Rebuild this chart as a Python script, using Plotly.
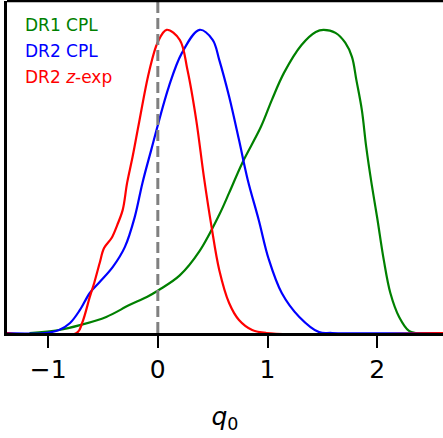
import plotly.graph_objects as go

# DR1 CPL (green)
q_dr1 = [-1.17, -0.9, -0.71, -0.47, -0.26, -0.1, 0.01, 0.2, 0.38, 0.56, 0.65, 0.77, 0.94, 1.04, 1.15, 1.31, 1.44, 1.51, 1.62, 1.71, 1.77, 1.81, 1.86, 1.9, 1.95, 2.0, 2.06, 2.12, 2.2, 2.29, 2.35, 2.6]
p_dr1 = [0.0, 0.01, 0.026, 0.053, 0.092, 0.119, 0.142, 0.19, 0.27, 0.39, 0.462, 0.561, 0.68, 0.769, 0.858, 0.95, 0.993, 1.0, 0.99, 0.957, 0.911, 0.835, 0.736, 0.614, 0.49, 0.38, 0.241, 0.132, 0.053, 0.007, 0.0, 0.0]

# DR2 CPL (blue)
q_cpl = [-1.4, -1.03, -0.9, -0.8, -0.71, -0.62, -0.53, -0.41, -0.3, -0.21, -0.14, -0.06, 0.1, 0.22, 0.38, 0.5, 0.56, 0.65, 0.74, 0.82, 0.92, 1.01, 1.13, 1.29, 1.47, 1.59, 2.6]
p_cpl = [0.0, 0.0, 0.01, 0.033, 0.076, 0.132, 0.168, 0.218, 0.284, 0.383, 0.495, 0.604, 0.812, 0.924, 1.0, 0.967, 0.901, 0.78, 0.637, 0.505, 0.373, 0.245, 0.132, 0.053, 0.003, 0.0, 0.0]

# DR2 z-exp (red)
q_zexp = [-1.4, -0.74, -0.69, -0.62, -0.58, -0.53, -0.49, -0.42, -0.37, -0.32, -0.28, -0.23, -0.17, -0.08, 0.0, 0.08, 0.2, 0.27, 0.35, 0.42, 0.49, 0.56, 0.65, 0.74, 0.86, 0.99, 2.6]
p_zexp = [0.0, 0.0, 0.033, 0.119, 0.165, 0.231, 0.28, 0.314, 0.356, 0.406, 0.495, 0.581, 0.696, 0.861, 0.96, 1.0, 0.967, 0.868, 0.703, 0.515, 0.35, 0.208, 0.099, 0.043, 0.01, 0.0, 0.0]

labels = ["DR1 CPL", "DR2 CPL", "DR2 <i>z</i>-exp"]
colors = ["green", "blue", "red"]

fig = go.Figure()
for xs, ys, c, name in [(q_dr1, p_dr1, colors[0], labels[0]),
                        (q_cpl, p_cpl, colors[1], labels[1]),
                        (q_zexp, p_zexp, colors[2], labels[2])]:
    fig.add_trace(go.Scatter(x=xs, y=ys, mode="lines", name=name,
                             line=dict(color=c, width=2.2, shape="spline", smoothing=1.0),
                             showlegend=False))

fig.add_vline(x=0, line=dict(color="gray", width=3, dash="11px,5px"))

for i, (lab, c) in enumerate(zip(labels, colors)):
    fig.add_annotation(x=0.037, y=0.928 - i * 0.078, xref="paper", yref="paper",
                       text=lab, showarrow=False, xanchor="left", yanchor="middle",
                       font=dict(color=c, size=17, family="DejaVu Sans"))

fig.add_shape(type="line", xref="paper", yref="paper", x0=0, x1=1, y0=1, y1=1,
              line=dict(color="black", width=2.5))

fig.update_layout(
    width=443, height=438,
    margin=dict(l=7, r=0, t=1, b=105),
    plot_bgcolor="white", paper_bgcolor="white",
    font=dict(family="DejaVu Sans", color="black"),
    xaxis=dict(range=[-1.375, 2.6], tickvals=[-1, 0, 1, 2], ticktext=["\u22121", "0", "1", "2"],
               showgrid=False, zeroline=False, showline=True, linecolor="black", linewidth=2.5,
               ticks="outside", ticklen=12, tickwidth=2, tickcolor="black",
               tickfont=dict(size=25),
               title=dict(text="<i>q</i><sub>0</sub>", font=dict(size=25), standoff=25)),
    yaxis=dict(range=[0, 1.095], showticklabels=False, showgrid=False, zeroline=False,
               showline=True, linecolor="black", linewidth=2.5, ticks=""),
)

fig.write_html("out.html", config={"displayModeBar": False},
               post_script="document.body.style.margin='0';")
